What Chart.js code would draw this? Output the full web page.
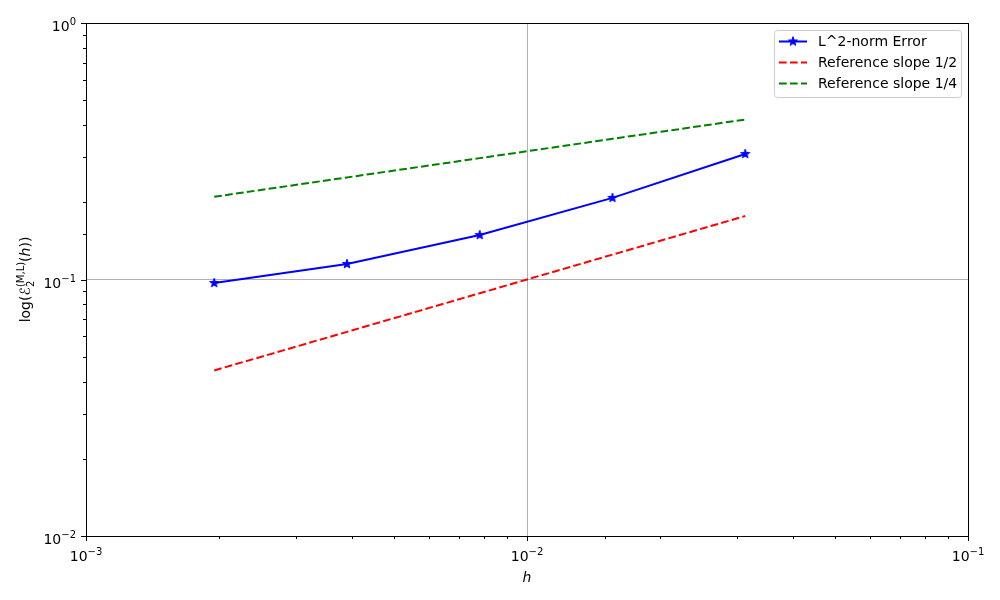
<!DOCTYPE html>
<html>
<head>
<meta charset="utf-8">
<script src="https://cdn.jsdelivr.net/npm/chart.js@4/dist/chart.umd.min.js"></script>
<style>
  html, body { margin: 0; padding: 0; background: #fff; }
</style>
</head>
<body>
<canvas id="chart" width="1000" height="600"></canvas>
<script>
// data
const hValues = [0.001953, 0.003906, 0.007813, 0.015625, 0.03125];
const errorValues = [0.0969, 0.1149, 0.149, 0.208, 0.3085];
const slopeHalfValues = [0.0442, 0.0625, 0.0884, 0.125, 0.1768];
const slopeQuarterValues = [0.2102, 0.25, 0.2973, 0.3536, 0.4204];
const seriesNames = ['L^2-norm Error', 'Reference slope 1/2', 'Reference slope 1/4'];
const xTickExps = ['−3', '−2', '−1'];
const yTickExps = ['−2', '−1', '0'];

const FONT = 'DejaVu Sans';
const dash = [7.7, 3.3];

function toPoints(ys) {
    return hValues.map((h, i) => ({ x: h, y: ys[i] }));
}

function isMajor(v) {
    const l = Math.log10(v);
    return Math.abs(l - Math.round(l)) < 1e-6;
}

function makeStar(r, color) {
    const c = document.createElement('canvas');
    const s = Math.ceil(r * 2 + 2);
    c.width = s; c.height = s;
    const g = c.getContext('2d');
    g.fillStyle = color;
    g.strokeStyle = color;
    g.lineWidth = 1;
    g.beginPath();
    for (let i = 0; i < 10; i++) {
        const a = -Math.PI / 2 + i * Math.PI / 5;
        const rr = i % 2 ? r * 0.4 : r;
        g.lineTo(s / 2 + rr * Math.cos(a), s / 2 + rr * Math.sin(a));
    }
    g.closePath();
    g.fill();
    g.stroke();
    return c;
}
const starImg = makeStar(4.8, '#0000ff');

// "10" with a raised exponent, like matplotlib's mathtext labels
function powerLabel(ctx, exp, x, baseline, align) {
    ctx.font = '14px "' + FONT + '"';
    const wBase = ctx.measureText('10').width;
    ctx.font = '10px "' + FONT + '"';
    const wExp = ctx.measureText(exp).width;
    const w = wBase + wExp;
    let x0 = x;
    if (align === 'right') x0 = x - w;
    else if (align === 'center') x0 = x - w / 2;
    ctx.textAlign = 'left';
    ctx.textBaseline = 'alphabetic';
    ctx.font = '14px "' + FONT + '"';
    ctx.fillText('10', x0, baseline);
    ctx.font = '10px "' + FONT + '"';
    ctx.fillText(exp, x0 + wBase, baseline - 6);
}

// frame, outward tick marks, tick labels, legend, y title
const decorPlugin = {
    id: 'decor',
    afterDraw(chart) {
        const ctx = chart.ctx;
        const a = chart.chartArea;
        ctx.save();
        ctx.strokeStyle = '#000';
        ctx.lineWidth = 1;

        // ticks
        const xs = chart.scales.x, ys = chart.scales.y;
        ctx.beginPath();
        xs.ticks.forEach(t => {
            const px = Math.round(xs.getPixelForValue(t.value)) + 0.5;
            const len = isMajor(t.value) ? 5 : 3;
            ctx.moveTo(px, a.bottom);
            ctx.lineTo(px, a.bottom + len);
        });
        ys.ticks.forEach(t => {
            const py = Math.round(ys.getPixelForValue(t.value)) + 0.5;
            const len = isMajor(t.value) ? 5 : 3;
            ctx.moveTo(a.left, py);
            ctx.lineTo(a.left - len, py);
        });
        ctx.stroke();

        // tick labels
        ctx.fillStyle = '#000';
        xs.ticks.filter(t => isMajor(t.value)).forEach((t, i) => {
            powerLabel(ctx, xTickExps[i], xs.getPixelForValue(t.value), a.bottom + 24.5, 'center');
        });
        ys.ticks.filter(t => isMajor(t.value)).forEach((t, i) => {
            powerLabel(ctx, yTickExps[i], a.left - 10, ys.getPixelForValue(t.value) + 8, 'right');
        });

        // frame
        ctx.strokeRect(Math.round(a.left) + 0.5, Math.round(a.top) + 0.5,
            Math.round(a.right - a.left), Math.round(a.bottom - a.top));

        // legend
        const bx = 774.5, by = 30.5, bw = 187, bh = 67;
        ctx.fillStyle = 'rgba(255,255,255,0.8)';
        ctx.strokeStyle = '#cccccc';
        ctx.beginPath();
        ctx.roundRect(bx, by, bw, bh, 3);
        ctx.fill();
        ctx.stroke();
        ctx.font = '14px "' + FONT + '"';
        ctx.textBaseline = 'middle';
        ctx.textAlign = 'left';
        chart.data.datasets.forEach((ds, i) => {
            const yy = 41.5 + i * 21;
            ctx.strokeStyle = ds.borderColor;
            ctx.lineWidth = 2;
            ctx.setLineDash(ds.borderDash || []);
            ctx.beginPath();
            ctx.moveTo(779, yy);
            ctx.lineTo(807, yy);
            ctx.stroke();
            ctx.setLineDash([]);
            if (ds.pointStyle instanceof HTMLCanvasElement) {
                ctx.drawImage(ds.pointStyle, 793 - ds.pointStyle.width / 2, yy - ds.pointStyle.height / 2);
            }
            ctx.fillStyle = '#000';
            ctx.fillText(ds.label, 818, yy + 1);
        });

        // y axis title (mathtext-like)
        ctx.translate(25, (a.top + a.bottom) / 2);
        ctx.rotate(-Math.PI / 2);
        const big = '14px "' + FONT + '"';
        const bigIt = 'italic 14px "' + FONT + '"';
        const small = '10px "' + FONT + '"';
        const parts = [
            { t: 'log(', f: big, dy: 0 },
            { t: 'ℰ', f: bigIt, dy: 0 },
            { t: '2', f: small, dy: 4, stack: true },
            { t: '(M,L)', f: small, dy: -6 },
            { t: '(', f: big, dy: 0 },
            { t: 'h', f: bigIt, dy: 0 },
            { t: '))', f: big, dy: 0 }
        ];
        let total = 0;
        const widths = parts.map(p => { ctx.font = p.f; return ctx.measureText(p.t).width; });
        parts.forEach((p, i) => {
            if (p.stack) return;
            if (i > 0 && parts[i - 1].stack) total += Math.max(widths[i - 1], widths[i]);
            else total += widths[i];
        });
        let cx = -total / 2;
        ctx.fillStyle = '#000';
        ctx.textBaseline = 'alphabetic';
        parts.forEach((p, i) => {
            ctx.font = p.f;
            ctx.fillText(p.t, cx, 5 + p.dy);
            if (p.stack) return;
            if (i > 0 && parts[i - 1].stack) cx += Math.max(widths[i - 1], widths[i]);
            else cx += widths[i];
        });
        ctx.restore();
    }
};

new Chart(document.getElementById('chart').getContext('2d'), {
    type: 'line',
    data: {
        datasets: [
            {
                label: seriesNames[0],
                data: toPoints(errorValues),
                borderColor: '#0000ff',
                backgroundColor: '#0000ff',
                borderWidth: 2,
                pointStyle: starImg,
                pointRadius: 4,
                fill: false,
                tension: 0
            },
            {
                label: seriesNames[1],
                data: toPoints(slopeHalfValues),
                borderColor: '#ff0000',
                borderWidth: 2,
                borderDash: dash,
                pointRadius: 0,
                fill: false,
                tension: 0
            },
            {
                label: seriesNames[2],
                data: toPoints(slopeQuarterValues),
                borderColor: '#008000',
                borderWidth: 2,
                borderDash: dash,
                pointRadius: 0,
                fill: false,
                tension: 0
            }
        ]
    },
    options: {
        responsive: false,
        animation: false,
        layout: { padding: { left: 0, right: 32, top: 23, bottom: 0 } },
        plugins: {
            legend: { display: false },
            tooltip: { enabled: false }
        },
        scales: {
            x: {
                type: 'logarithmic',
                min: 0.001,
                max: 0.1,
                afterFit: s => { s.height = 64; },
                border: { display: false },
                grid: {
                    drawTicks: false,
                    color: c => (c.tick && isMajor(c.tick.value)) ? '#b0b0b0' : 'rgba(0,0,0,0)',
                    lineWidth: 1
                },
                ticks: { display: false, autoSkip: false },
                title: {
                    display: true,
                    text: 'h',
                    color: '#000',
                    font: { family: FONT, size: 14, style: 'italic' },
                    padding: { top: 0, bottom: 13 }
                }
            },
            y: {
                type: 'logarithmic',
                min: 0.01,
                max: 1,
                afterFit: s => { s.width = 86; },
                border: { display: false },
                grid: {
                    drawTicks: false,
                    color: c => (c.tick && isMajor(c.tick.value)) ? '#b0b0b0' : 'rgba(0,0,0,0)',
                    lineWidth: 1
                },
                ticks: { display: false, autoSkip: false }
            }
        }
    },
    plugins: [decorPlugin]
});
</script>
</body>
</html>
